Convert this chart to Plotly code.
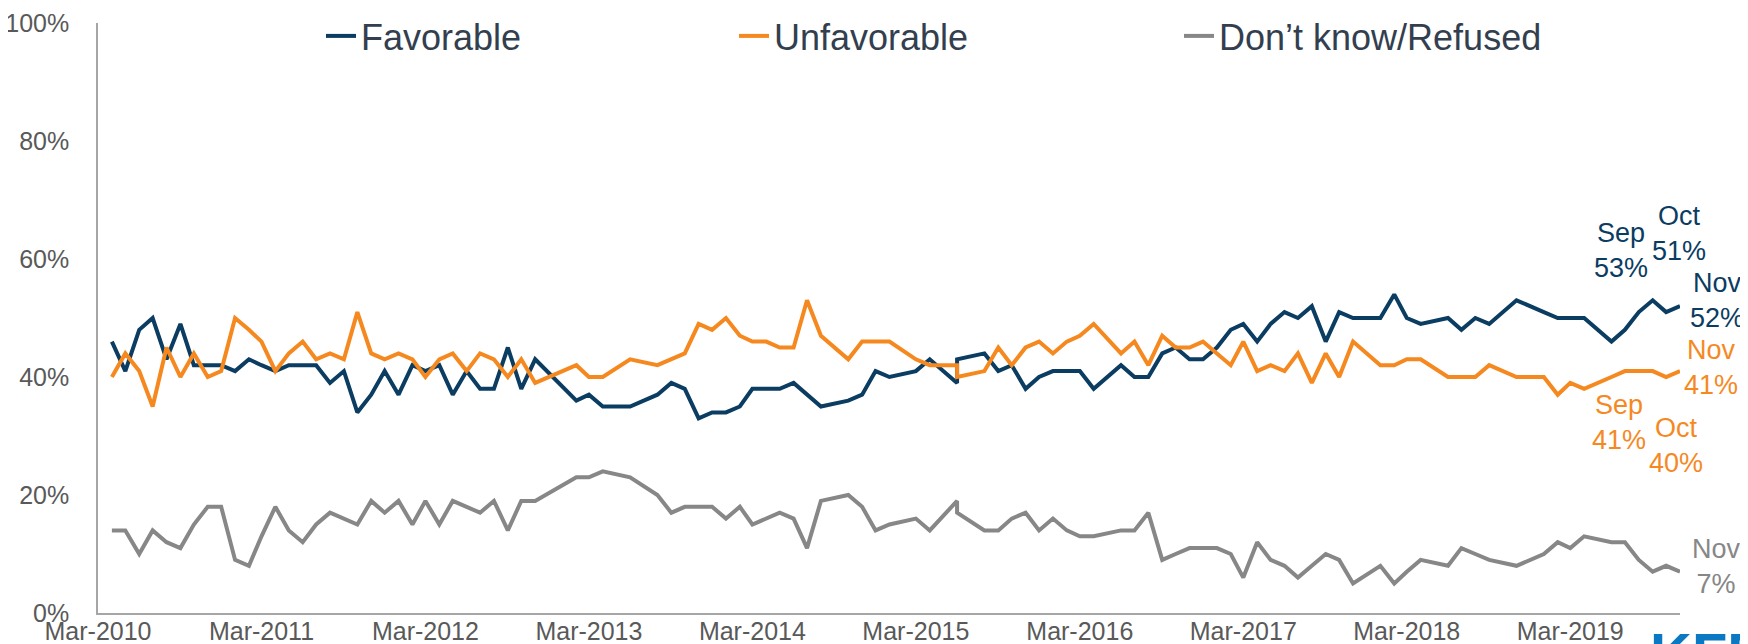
import plotly.graph_objects as go

# ---------------- data ----------------
dates = [
    "2010-04", "2010-05", "2010-06", "2010-07", "2010-08", "2010-09", "2010-10", "2010-11", "2010-12",
    "2011-01", "2011-02", "2011-03", "2011-04", "2011-05", "2011-06", "2011-07", "2011-08", "2011-09",
    "2011-10", "2011-11", "2011-12",
    "2012-01", "2012-02", "2012-03", "2012-04", "2012-05", "2012-06", "2012-07", "2012-08", "2012-09",
    "2012-10", "2012-11",
    "2013-02", "2013-03", "2013-04", "2013-06", "2013-08", "2013-09", "2013-10", "2013-11", "2013-12",
    "2014-01", "2014-02", "2014-03", "2014-04", "2014-05", "2014-06", "2014-07", "2014-08", "2014-10",
    "2014-11", "2014-12",
    "2015-01", "2015-03", "2015-04", "2015-06", "2015-06", "2015-08", "2015-09", "2015-10", "2015-11",
    "2015-12",
    "2016-01", "2016-02", "2016-03", "2016-04", "2016-06", "2016-07", "2016-08", "2016-09", "2016-10",
    "2016-11", "2016-12",
    "2017-01", "2017-02", "2017-03", "2017-04", "2017-05", "2017-06", "2017-07", "2017-08", "2017-09",
    "2017-10", "2017-11",
    "2018-01", "2018-02", "2018-03", "2018-04", "2018-06", "2018-07", "2018-08", "2018-09", "2018-11",
    "2019-01", "2019-02", "2019-03", "2019-04", "2019-06", "2019-07", "2019-08", "2019-09", "2019-10",
    "2019-11",
]

favorable = [
    46, 41, 48, 50, 43, 49, 42, 42, 42,
    41, 43, 42, 41, 42, 42, 42, 39, 41, 34, 37, 41,
    37, 42, 41, 42, 37, 41, 38, 38, 45, 38, 43,
    36, 37, 35, 35, 37, 39, 38, 33, 34,
    34, 35, 38, 38, 38, 39, 37, 35, 36, 37, 41,
    40, 41, 43, 39, 43, 44, 41, 42, 38, 40,
    41, 41, 41, 38, 42, 40, 40, 44, 45, 43, 43,
    45, 48, 49, 46, 49, 51, 50, 52, 46, 51, 50,
    50, 54, 50, 49, 50, 48, 50, 49, 53,
    51, 50, 50, 50, 46, 48, 51, 53, 51, 52,
]

unfavorable = [
    40, 44, 41, 35, 45, 40, 44, 40, 41,
    50, 48, 46, 41, 44, 46, 43, 44, 43, 51, 44, 43,
    44, 43, 40, 43, 44, 41, 44, 43, 40, 43, 39,
    42, 40, 40, 43, 42, 43, 44, 49, 48,
    50, 47, 46, 46, 45, 45, 53, 47, 43, 46, 46,
    46, 43, 42, 42, 40, 41, 45, 42, 45, 46,
    44, 46, 47, 49, 44, 46, 42, 47, 45, 45, 46,
    44, 42, 46, 41, 42, 41, 44, 39, 44, 40, 46,
    42, 42, 43, 43, 40, 40, 40, 42, 40,
    40, 37, 39, 38, 40, 41, 41, 41, 40, 41,
]

dont_know = [
    14, 14, 10, 14, 12, 11, 15, 18, 18,
    9, 8, 13, 18, 14, 12, 15, 17, 16, 15, 19, 17,
    19, 15, 19, 15, 19, 18, 17, 19, 14, 19, 19,
    23, 23, 24, 23, 20, 17, 18, 18, 18,
    16, 18, 15, 16, 17, 16, 11, 19, 20, 18, 14,
    15, 16, 14, 19, 17, 14, 14, 16, 17, 14,
    16, 14, 13, 13, 14, 14, 17, 9, 10, 11, 11,
    11, 10, 6, 12, 9, 8, 6, 8, 10, 9, 5,
    8, 5, 7, 9, 8, 11, 10, 9, 8,
    10, 12, 11, 13, 12, 12, 9, 7, 8, 7,
]

series_names = ["Favorable", "Unfavorable", "Don\u2019t know/Refused"]
series_colors = ["#0b3c61", "#f5891f", "#878787"]

x_tick_dates = ["2010-03-01", "2011-03-01", "2012-03-01", "2013-03-01", "2014-03-01",
                "2015-03-01", "2016-03-01", "2017-03-01", "2018-03-01", "2019-03-01"]
x_tick_labels = ["Mar-2010", "Mar-2011", "Mar-2012", "Mar-2013", "Mar-2014",
                 "Mar-2015", "Mar-2016", "Mar-2017", "Mar-2018", "Mar-2019"]
y_tick_vals = [0, 20, 40, 60, 80, 100]
y_tick_labels = ["0%", "20%", "40%", "60%", "80%", "100%"]

end_months = ["Sep", "Oct", "Nov"]

# ---------------- layout geometry (pixels) ----------------
W, H = 1748, 644
PL, PR, PT, PB = 90, 1672, 15, 605          # plot area edges


def px_x(px):
    return (px - PL) / (PR - PL)


def px_y(py):
    return (PB - py) / (PB - PT)


FONT = "Liberation Sans, Arial, sans-serif"

fig = go.Figure()
series_values = [favorable, unfavorable, dont_know]
legend_ids = ["legend", "legend2", "legend3"]
for name, vals, col, lg in zip(series_names, series_values, series_colors, legend_ids):
    fig.add_trace(go.Scatter(
        x=dates, y=vals, name=name, mode="lines",
        line=dict(color=col, width=4),
        legend=lg, hoverinfo="x+y+name",
    ))

# end-of-series labels: (series index, point index from end, xshift, yshift)
label_specs = [
    (0, -3, -32, 50), (0, -2, 13, 79), (0, -1, 37, 6),
    (1, -3, -34, -51), (1, -2, 10, -68), (1, -1, 31, 4),
    (2, -1, 36, 5),
]
annotations = []
for si, pi, xs, ys in label_specs:
    month = end_months[pi]
    val = series_values[si][pi]
    annotations.append(dict(
        x=dates[pi], y=val, xref="x", yref="y",
        text=f"{month}<br>{val}%", showarrow=False,
        xshift=xs, yshift=ys, align="center",
        font=dict(family=FONT, size=27, color=series_colors[si]),
    ))

# partially visible logo text at bottom-right corner
annotations.append(dict(
    x=px_x(1640), y=px_y(611), xref="paper", yref="paper",
    xanchor="left", yanchor="top", text="<b>KFF</b>", showarrow=False,
    font=dict(family=FONT, size=58, color="#0a78c2"),
))

legend_common = dict(
    orientation="h", xanchor="left", yanchor="middle",
    bgcolor="rgba(0,0,0,0)", borderwidth=0,
    font=dict(family=FONT, size=36, color="#333f4f"),
    itemwidth=30,
)

fig.update_layout(
    width=W, height=H,
    margin=dict(l=PL, r=W - PR, t=PT, b=H - PB, autoexpand=False),
    paper_bgcolor="white", plot_bgcolor="white",
    font=dict(family=FONT),
    showlegend=True,
    legend=dict(x=px_x(313), y=px_y(28), **legend_common),
    legend2=dict(x=px_x(726), y=px_y(28), **legend_common),
    legend3=dict(x=px_x(1171), y=px_y(28), **legend_common),
    xaxis=dict(
        type="date", range=["2010-03-01", "2019-11-01"],
        tickvals=x_tick_dates, ticktext=x_tick_labels,
        showline=True, linecolor="#a6a6a6", linewidth=1.5,
        showgrid=False, zeroline=False, ticks="", ticklen=0, automargin=False,
        tickfont=dict(family=FONT, size=25, color="#595959"),
        ticklabelstandoff=-5,
    ),
    yaxis=dict(
        range=[0, 100], tickvals=y_tick_vals, ticktext=y_tick_labels,
        showline=True, linecolor="#a6a6a6", linewidth=1.5,
        showgrid=False, zeroline=False, ticks="", automargin=False,
        tickfont=dict(family=FONT, size=25, color="#595959"),
        ticklabelstandoff=22,
    ),
    annotations=annotations,
)

fig.write_html("out.html")
